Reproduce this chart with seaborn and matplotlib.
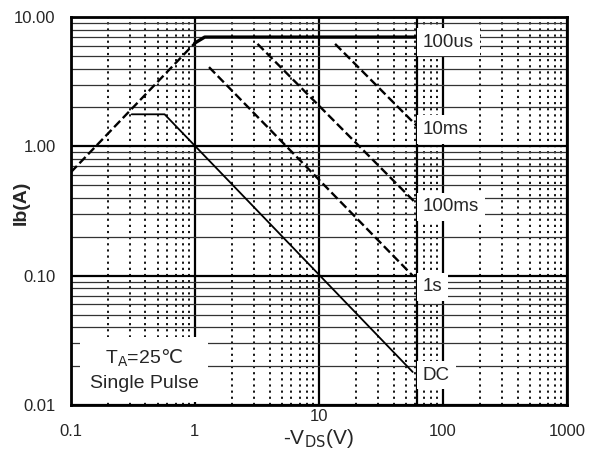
import pandas as pd
import matplotlib
matplotlib.use("Agg")
import matplotlib.pyplot as plt
import seaborn as sns
from matplotlib.ticker import LogLocator, FixedLocator, NullFormatter

# safe operating area curves (V_DS in V, I_D in A)
rds_v = [0.1, 1.0]
rds_i = [0.63, 6.3]
us100_v = [1.0, 1.2, 60]
us100_i = [6.3, 7.0, 7.0]
ms10_v = [13.5, 62]
ms10_i = [6.2, 1.43]
ms100_v = [3.2, 62]
ms100_i = [6.2, 0.355]
s1_v = [1.3, 57]
s1_i = [4.1, 0.1]
dc_v = [0.31, 0.57, 57]
dc_i = [1.77, 1.77, 0.018]
vds_limit = 62

curve_names = ["100us", "10ms", "100ms", "1s", "DC"]
label_i = [6.4, 1.35, 0.34, 0.082, 0.017]
x_ticks = [0.1, 1, 10, 100, 1000]
x_tick_labels = ["0.1", "1", "10", "100", "1000"]
y_ticks = [0.01, 0.1, 1, 10]
y_tick_labels = ["0.01", "0.10", "1.00", "10.00"]

def build_frame():
    rows = []
    for name, vs, ids in [("rds", rds_v, rds_i), ("100us", us100_v, us100_i),
                          ("10ms", ms10_v, ms10_i), ("100ms", ms100_v, ms100_i),
                          ("1s", s1_v, s1_i), ("DC", dc_v, dc_i)]:
        for v, i in zip(vs, ids):
            rows.append({"curve": name, "vds": v, "id": i})
    return pd.DataFrame(rows)

def main():
    sns.set_style("white")
    plt.rcParams["font.family"] = ["Liberation Sans", "DejaVu Sans"]
    df = build_frame()

    fig = plt.figure(figsize=(5.95, 4.61), dpi=100)
    ax = fig.add_axes([0.119, 0.1215, 0.834, 0.8415])
    ax.set_xscale("log")
    ax.set_yscale("log")

    styles = {"rds": ("--", 1.7), "100us": ("-", 2.4), "10ms": ("--", 1.7),
              "100ms": ("--", 1.7), "1s": ("--", 1.7), "DC": ("-", 1.3)}
    for name, (ls, lw) in styles.items():
        sub = df[df["curve"] == name]
        sns.lineplot(data=sub, x="vds", y="id", ax=ax, color="black",
                     linestyle=ls, linewidth=lw, sort=False, estimator=None, zorder=4)
    ax.axvline(vds_limit, color="black", linewidth=1.6, zorder=3)

    ax.set_xlim(0.1, 1000)
    ax.set_ylim(0.01, 10)
    ax.xaxis.set_major_locator(FixedLocator(x_ticks))
    ax.set_xticklabels(x_tick_labels)
    ax.yaxis.set_major_locator(FixedLocator(y_ticks))
    ax.set_yticklabels(y_tick_labels)
    ax.xaxis.set_minor_locator(LogLocator(base=10, subs=range(2, 10)))
    ax.yaxis.set_minor_locator(LogLocator(base=10, subs=range(2, 10)))
    ax.xaxis.set_minor_formatter(NullFormatter())
    ax.yaxis.set_minor_formatter(NullFormatter())
    ax.tick_params(which="both", length=0, labelsize=12)
    ax.tick_params(axis="y", pad=11)
    ax.tick_params(axis="x", pad=14)
    ax.xaxis.get_major_ticks()[2].set_pad(3)   # the "10" sits higher in the original

    ax.grid(True, which="major", color="black", linewidth=1.6, zorder=1)
    ax.yaxis.grid(True, which="minor", color="#333333", linewidth=0.9, linestyle="-")
    ax.xaxis.grid(True, which="minor", color="black", linewidth=1.3, linestyle=(0, (1.2, 2.2)))
    ax.set_axisbelow(True)
    for sp in ax.spines.values():
        sp.set_color("black")
        sp.set_linewidth(2)

    box = dict(facecolor="white", edgecolor="none", pad=4)
    for name, yi in zip(curve_names, label_i):
        ax.text(69, yi, name, fontsize=13.5, ha="left", va="center", bbox=box, zorder=5)
    ax.text(0.39, 0.0126, "T$_\\mathrm{A}$=25$\\mathrm{\u2103}$\nSingle Pulse", fontsize=14,
            ha="center", va="bottom", linespacing=1.45, zorder=5,
            bbox=dict(facecolor="white", edgecolor="none", pad=7))

    ax.set_xlabel("-V$_\\mathrm{DS}$(V)", fontsize=15)
    ax.xaxis.set_label_coords(0.498, -0.057)
    ax.set_ylabel("Ib(A)", fontsize=14, fontweight="bold")
    ax.yaxis.set_label_coords(-0.083, 0.52)
    fig.savefig("out.png", dpi=100)
    plt.close(fig)

if __name__ == "__main__":
    main()
